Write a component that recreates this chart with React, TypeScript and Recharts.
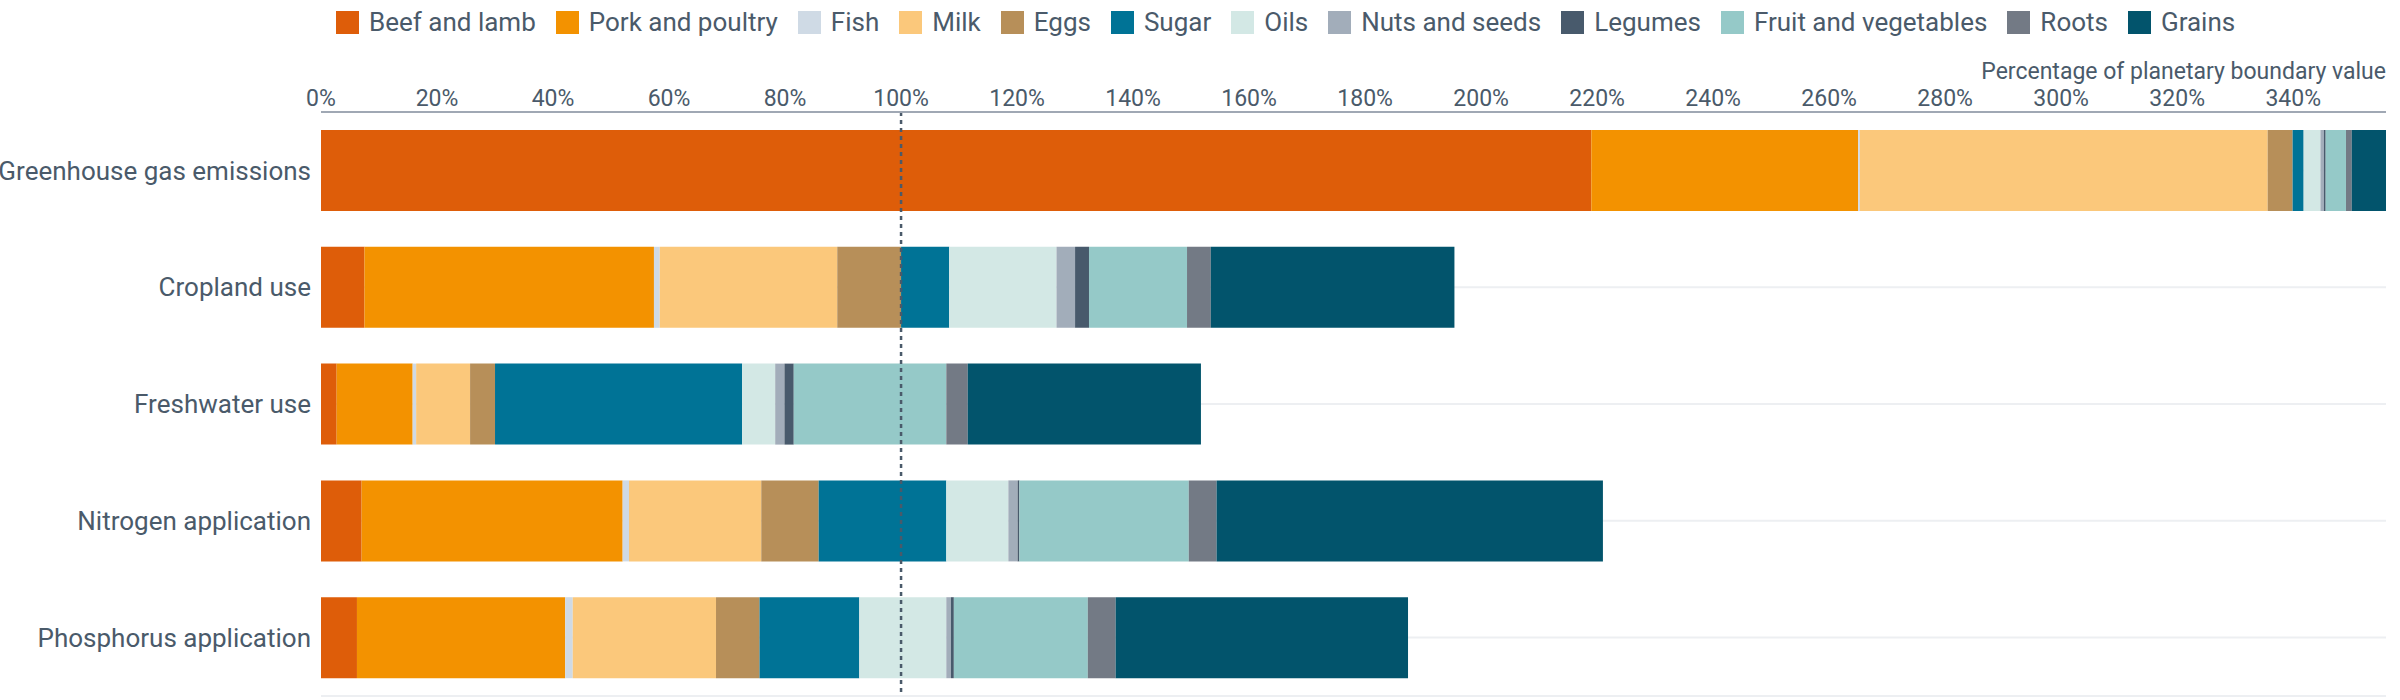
import React from "react";
import { BarChart, Bar, XAxis, YAxis, CartesianGrid, ReferenceLine } from "recharts";

const categories = [
  "Greenhouse gas emissions",
  "Cropland use",
  "Freshwater use",
  "Nitrogen application",
  "Phosphorus application",
];

const foods = [
  { key: "Beef and lamb", color: "#DE5D09" },
  { key: "Pork and poultry", color: "#F39200" },
  { key: "Fish", color: "#CFDAE5" },
  { key: "Milk", color: "#FBC87B" },
  { key: "Eggs", color: "#B78F59" },
  { key: "Sugar", color: "#007396" },
  { key: "Oils", color: "#D3E8E5" },
  { key: "Nuts and seeds", color: "#A2ADBA" },
  { key: "Legumes", color: "#485A6C" },
  { key: "Fruit and vegetables", color: "#95C9C8" },
  { key: "Roots", color: "#737A85" },
  { key: "Grains", color: "#02546C" },
];

// one array per category, values in food order
const ghg = [219, 46, 0.3, 70.3, 4.3, 1.9, 2.9, 0.6, 0.3, 3.5, 1, 6];
const cropland = [7.5, 49.9, 1, 30.6, 11, 8.3, 18.5, 3.2, 2.4, 16.9, 4.1, 42];
const freshwater = [2.7, 13.1, 0.6, 9.3, 4.3, 42.6, 5.7, 1.6, 1.6, 26.3, 3.7, 40.2];
const nitrogen = [7, 45, 1.1, 22.8, 9.9, 22, 10.7, 1.6, 0.3, 29.2, 4.8, 66.6];
const phosphorus = [6.2, 35.9, 1.3, 24.7, 7.5, 17.2, 15, 0.8, 0.5, 23.1, 4.8, 50.4];

const ticks = [0, 20, 40, 60, 80, 100, 120, 140, 160, 180, 200, 220, 240, 260, 280, 300, 320, 340];

const rows = [ghg, cropland, freshwater, nitrogen, phosphorus];
const data = categories.map((name, i) => {
  const row: Record<string, number | string> = { name };
  foods.forEach((f, j) => (row[f.key] = rows[i][j]));
  return row;
});

const FONT = "'Roboto', sans-serif";
const TEXT = "#4A5A6A";

export default function App() {
  return (
    <div style={{ position: "fixed", left: 0, top: 0, width: 2400, height: 700, background: "#fff", fontFamily: FONT }}>
      <div style={{ position: "absolute", left: 336, top: 7, display: "flex", alignItems: "center", gap: 20, fontSize: 26, color: TEXT }}>
        {foods.map((f) => (
          <div key={f.key} style={{ display: "flex", alignItems: "center", gap: 10 }}>
            <span style={{ width: 23, height: 23, background: f.color, display: "inline-block" }} />
            <span>{f.key}</span>
          </div>
        ))}
      </div>
      <div style={{ position: "absolute", right: 14, top: 58, fontSize: 23, color: TEXT }}>
        Percentage of planetary boundary value
      </div>
      <BarChart
        width={2400}
        height={700}
        data={data}
        layout="vertical"
        margin={{ top: 62, right: 14, bottom: 4, left: 0 }}
      >
        <CartesianGrid horizontal vertical={false} stroke="#EDEFF2" strokeWidth={2} />
        <XAxis
          type="number"
          orientation="top"
          domain={[0, 356]}
          ticks={ticks}
          tickFormatter={(v) => `${v}%`}
          allowDataOverflow
          height={50}
          tickLine={false}
          axisLine={{ stroke: "#A0A8B4", strokeWidth: 2 }}
          tick={{ fill: TEXT, fontSize: 23, fontFamily: FONT }}
          tickMargin={0}
        />
        <YAxis
          type="category"
          dataKey="name"
          width={321}
          tickLine={false}
          axisLine={false}
          tick={{ fill: TEXT, fontSize: 26, fontFamily: FONT }}
          tickMargin={4}
        />
        {foods.map((f) => (
          <Bar key={f.key} dataKey={f.key} stackId="a" fill={f.color} barSize={81} isAnimationActive={false} />
        ))}
        <ReferenceLine x={100} stroke={TEXT} strokeWidth={2.5} strokeDasharray="4 4" />
      </BarChart>
    </div>
  );
}
